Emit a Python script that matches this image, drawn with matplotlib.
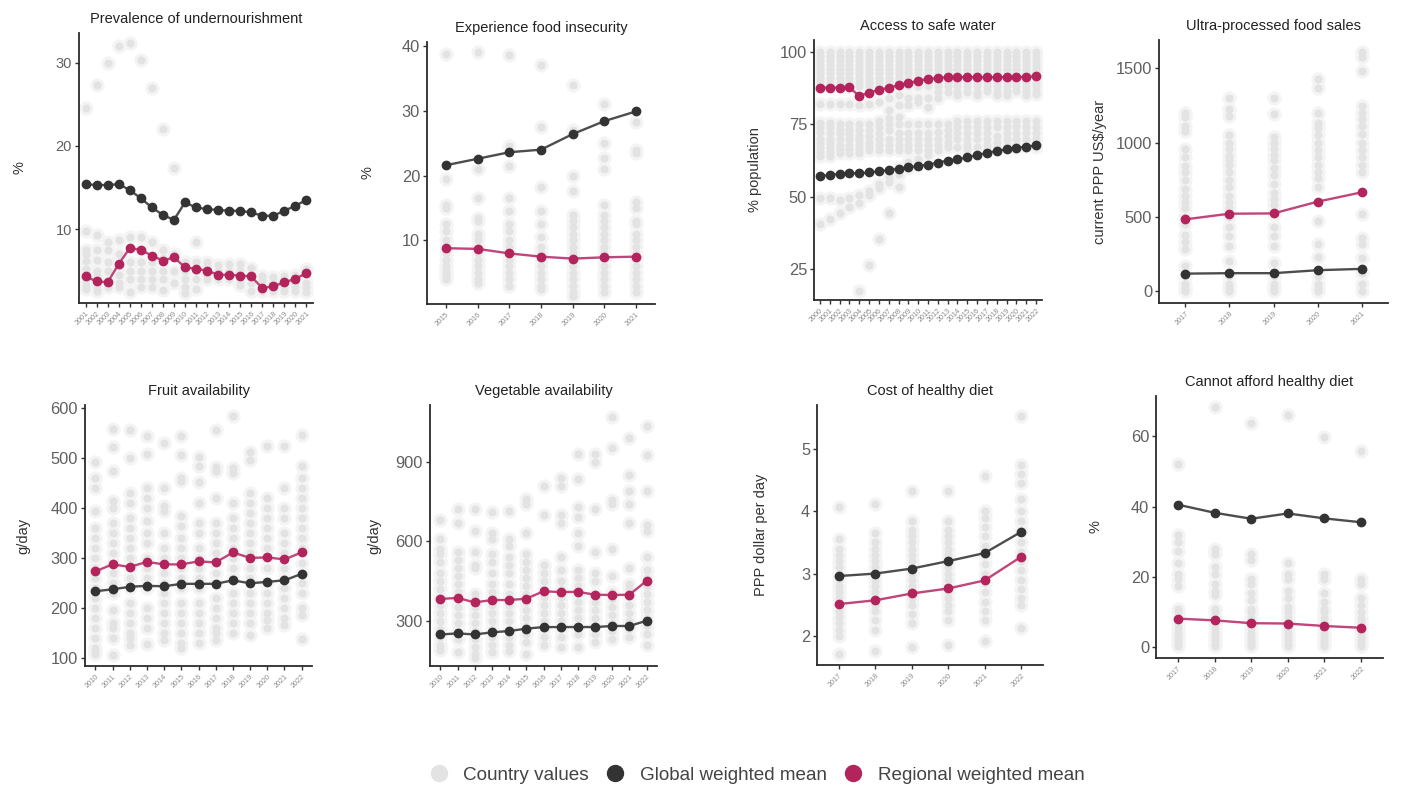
import matplotlib
matplotlib.use("Agg")
import matplotlib.pyplot as plt
from matplotlib.lines import Line2D

plt.rcParams['font.family'] = ['Liberation Sans', 'DejaVu Sans']

# Rozmiar obrazka w pikselach
W, H = 1401, 788

GREY_DOT = '#e3e3e3'
GREY_HALO = '#f4f4f4'
GLOBAL_COL = '#333333'
GLOBAL_LINE = '#4d4d4d'
REGIONAL_COL = '#b3245c'
REGIONAL_LINE = '#c0457a'

# ---------------- dane ----------------
# 1. Prevalence of undernourishment
und_years = list(range(2001, 2022))
und_global = [15.4, 15.3, 15.3, 15.4, 14.7, 13.7, 12.6, 11.7, 11.1, 13.2, 12.6,
              12.4, 12.3, 12.2, 12.2, 12.0, 11.6, 11.6, 12.2, 12.8, 13.5]
und_regional = [4.3, 3.7, 3.6, 5.8, 7.7, 7.5, 6.8, 6.2, 6.6, 5.4, 5.2,
                5.0, 4.5, 4.5, 4.4, 4.3, 2.9, 3.1, 3.6, 4.0, 4.7]
und_country = [
    [24.6, 9.8, 7.5, 7.0, 6.2, 5.2, 4.5, 3.8, 3.2, 2.8],
    [27.3, 9.3, 7.5, 6.3, 5.0, 4.3, 3.0, 2.5],
    [30.0, 8.5, 7.5, 6.0, 5.0, 3.5, 3.0],
    [32.0, 8.7, 7.0, 5.5, 4.5, 3.5, 3.0],
    [32.4, 9.0, 6.0, 5.0, 4.0, 2.4],
    [30.3, 9.0, 7.5, 6.0, 5.0, 4.0, 3.0],
    [27.0, 8.5, 6.0, 5.0, 4.0, 3.0],
    [22.1, 7.5, 6.5, 5.0, 4.0, 2.7],
    [17.3, 7.0, 5.0, 3.5],
    [6.0, 5.0, 4.0, 3.0, 2.3],
    [8.5, 6.0, 5.0, 4.0, 2.8],
    [6.0, 5.5, 5.0, 4.5, 4.0],
    [5.7, 5.0, 4.5, 4.0],
    [5.8, 5.0, 4.5, 4.0],
    [5.8, 5.0, 4.5, 3.8, 3.3],
    [5.3, 4.5, 3.5, 2.5],
    [4.3, 3.8, 3.0, 2.5],
    [4.2, 3.5, 3.0, 2.5],
    [4.3, 3.8, 3.0, 2.5],
    [4.5, 3.5, 3.0, 2.5],
    [5.2, 3.5, 3.0, 2.4],
]

# 2. Experience food insecurity
fies_years = list(range(2015, 2022))
fies_global = [21.6, 22.6, 23.6, 24.0, 26.4, 28.4, 29.9]
fies_regional = [8.8, 8.7, 8.0, 7.5, 7.2, 7.4, 7.5]
fies_country = [
    [38.8, 19.5, 15.5, 15.0, 12.5, 11.5, 10.0, 9.0, 8.0, 7.0, 6.0, 5.5, 5.0, 4.5, 4.0],
    [39.0, 21.0, 16.5, 13.5, 13.0, 11.0, 10.0, 9.0, 8.0, 7.0, 6.0, 5.0, 4.0, 3.5],
    [38.6, 24.5, 21.5, 16.5, 14.5, 12.5, 11.5, 10.0, 9.0, 8.0, 7.0, 6.0, 5.0, 4.0, 3.0],
    [37.1, 27.5, 18.3, 14.5, 12.5, 10.5, 9.0, 8.0, 7.0, 6.0, 5.0, 4.0, 3.0, 2.5],
    [33.9, 27.0, 20.0, 17.6, 14.0, 13.0, 12.0, 11.0, 10.0, 9.0, 8.0, 7.0, 6.0, 5.0,
     4.0, 3.0, 2.0, 1.5],
    [31.0, 25.0, 22.7, 21.0, 15.5, 14.0, 13.0, 12.0, 11.0, 10.0, 9.0, 8.0, 7.0, 6.0,
     5.0, 4.0, 3.0, 2.0],
    [28.2, 24.0, 23.5, 16.0, 15.0, 13.0, 12.5, 11.0, 10.0, 9.0, 8.0, 7.0, 6.0, 5.0,
     4.0, 3.0, 2.0],
]

# 3. Access to safe water
water_years = list(range(2000, 2023))
water_global = [57.2, 57.5, 58.0, 58.1, 58.1, 58.4, 58.8, 59.2, 59.7, 60.2, 60.6, 61.1,
                61.8, 62.5, 62.9, 63.6, 64.4, 65.1, 65.8, 66.4, 66.9, 67.3, 67.7]
water_regional = [87.6, 87.6, 87.6, 87.7, 84.7, 85.9, 86.8, 87.6, 88.4, 89.1, 90.0, 90.6,
                  90.9, 91.2, 91.2, 91.2, 91.2, 91.2, 91.2, 91.2, 91.2, 91.3, 91.5]
water_high_band = [100, 98.5, 97, 95.5, 94, 92.5, 91, 89.5, 88]
water_country = [
    water_high_band + [82, 75.5, 74, 72.5, 70, 68.5, 67, 65.5, 64, 49.5, 40.5],
    water_high_band + [82, 75.5, 74, 72, 70, 68.5, 67, 65.5, 64, 49.5, 42.5],
    water_high_band + [82, 75, 73.5, 72, 70, 68, 66.5, 65, 49, 44.5],
    water_high_band + [82, 75, 73.5, 71.5, 70, 68, 66.5, 65, 49.5, 46.5],
    water_high_band + [81.5, 75, 73, 71, 69.5, 68, 66.5, 65, 50.5, 48, 17.5],
    water_high_band + [82, 75, 73, 71, 69, 67, 66, 52, 50.5, 26.5],
    water_high_band + [82.5, 76, 74, 72, 70, 68, 66, 54.5, 53, 35.5],
    water_high_band + [84, 80, 77, 75, 73, 70, 68, 66, 57, 55, 44.5],
    water_high_band + [85, 81.5, 77.5, 75, 72, 70, 68, 66, 60, 58, 53.5],
    water_high_band + [84, 81.5, 75, 72, 70, 68, 66, 62, 60],
    water_high_band + [84, 82.5, 75, 72, 70, 68, 66, 63],
    water_high_band + [84, 81, 75, 72, 70, 68, 66, 64.5],
    water_high_band + [86, 84, 75, 72.5, 70, 68, 66],
    water_high_band + [86, 75, 73, 71, 69, 67],
    water_high_band + [86, 85, 76, 74, 72, 70, 67],
    water_high_band + [86, 76, 74, 72, 70, 68, 66.5],
    water_high_band + [86, 85, 76, 74, 72, 70, 67],
    water_high_band + [86.5, 76, 74, 72, 70, 68, 66.5],
    water_high_band + [86, 85, 76, 74, 71, 69, 67],
    water_high_band + [86.5, 85, 76, 74, 72, 70, 67.5],
    water_high_band + [86.5, 76, 74.5, 72, 70, 68, 67],
    water_high_band + [86.5, 85, 76, 74, 72, 70, 67.5],
    water_high_band + [86.5, 85.5, 76, 74, 72, 70, 67],
]

# 4. Ultra-processed food sales
upf_years = list(range(2017, 2022))
upf_global = [117, 120, 120, 140, 149]
upf_regional = [483, 521, 523, 602, 665]
upf_country = [
    [0, 20, 50, 100, 170, 280, 330, 380, 450, 500, 560, 600, 640, 690, 750, 800, 840,
     900, 960, 1080, 1110, 1170, 1200],
    [0, 20, 50, 100, 200, 300, 370, 430, 500, 560, 600, 640, 700, 750, 800, 850, 880,
     910, 960, 1000, 1050, 1180, 1230, 1300],
    [0, 20, 50, 100, 190, 300, 370, 430, 520, 580, 620, 660, 720, 780, 830, 880, 920,
     960, 1000, 1040, 1190, 1300],
    [0, 20, 50, 100, 230, 320, 470, 700, 760, 800, 850, 900, 950, 1000, 1050, 1100,
     1130, 1200, 1370, 1430],
    [0, 50, 120, 220, 320, 360, 520, 800, 850, 900, 950, 1000, 1060, 1110, 1160, 1200,
     1250, 1480, 1580, 1610],
]

# 5. Fruit availability
fruit_years = list(range(2010, 2023))
fruit_global = [233, 237, 242, 244, 243, 248, 248, 248, 255, 249, 252, 255, 268]
fruit_regional = [273, 287, 282, 292, 287, 287, 293, 291, 311, 300, 301, 297, 311]
fruit_country = [
    [108, 115, 120, 140, 160, 180, 200, 220, 240, 260, 280, 300, 320, 340, 360, 395,
     440, 460, 493],
    [105, 140, 160, 170, 195, 230, 250, 270, 290, 310, 330, 350, 370, 400, 415, 475,
     522, 558],
    [125, 140, 150, 170, 190, 210, 240, 260, 280, 300, 320, 340, 360, 380, 410, 430,
     500, 557],
    [128, 160, 180, 200, 240, 260, 280, 300, 330, 350, 375, 400, 420, 440, 508, 545],
    [135, 150, 170, 190, 210, 230, 250, 270, 300, 320, 350, 395, 405, 440, 530],
    [120, 130, 150, 170, 190, 210, 240, 260, 280, 300, 320, 340, 365, 385, 455, 460,
     507, 545],
    [130, 150, 170, 190, 210, 240, 260, 280, 300, 320, 350, 370, 410, 452, 485, 503],
    [135, 150, 160, 180, 200, 220, 250, 270, 290, 310, 330, 350, 370, 420, 475, 482,
     556],
    [150, 170, 190, 210, 230, 260, 280, 300, 320, 340, 360, 380, 410, 470, 480, 585],
    [145, 170, 190, 210, 230, 260, 280, 310, 330, 350, 370, 390, 410, 430, 497, 513],
    [160, 175, 190, 210, 230, 250, 280, 300, 320, 340, 360, 380, 400, 420, 525],
    [165, 180, 200, 220, 240, 260, 280, 310, 330, 350, 380, 400, 440, 525],
    [138, 185, 200, 230, 250, 270, 290, 320, 340, 360, 380, 400, 420, 440, 460, 485,
     547],
]

# 6. Vegetable availability
veg_years = list(range(2010, 2023))
veg_global = [248, 252, 248, 256, 261, 270, 276, 276, 276, 276, 280, 280, 300]
veg_regional = [382, 386, 369, 378, 378, 383, 411, 408, 409, 398, 397, 398, 451]
veg_country = [
    [190, 210, 240, 270, 300, 330, 360, 390, 420, 450, 480, 520, 550, 570, 610, 680],
    [180, 230, 260, 290, 320, 350, 380, 410, 440, 470, 500, 530, 560, 670, 720],
    [160, 175, 200, 230, 260, 290, 320, 350, 380, 400, 500, 510, 560, 640, 720],
    [180, 210, 240, 270, 300, 330, 360, 390, 410, 440, 480, 520, 550, 610, 630, 710],
    [185, 210, 240, 270, 300, 330, 360, 400, 440, 480, 510, 540, 580, 610, 715],
    [175, 220, 250, 280, 310, 340, 370, 400, 430, 460, 490, 520, 550, 630, 740, 760],
    [210, 240, 270, 300, 330, 360, 390, 420, 450, 480, 510, 700, 810],
    [200, 240, 270, 300, 330, 360, 390, 420, 450, 490, 540, 670, 700, 810, 840],
    [200, 250, 280, 310, 340, 370, 400, 430, 460, 490, 580, 630, 690, 730, 835, 930],
    [220, 250, 280, 310, 340, 370, 400, 450, 480, 560, 720, 900, 930],
    [230, 260, 290, 320, 350, 380, 410, 470, 570, 740, 755, 950, 1070],
    [240, 270, 300, 330, 360, 390, 420, 440, 500, 670, 740, 790, 850, 990],
    [210, 250, 280, 310, 340, 370, 400, 430, 460, 490, 540, 640, 660, 790, 925, 1035],
]

# 7. Cost of healthy diet
cost_years = list(range(2017, 2023))
cost_global = [2.96, 3.00, 3.08, 3.20, 3.33, 3.67]
cost_regional = [2.51, 2.57, 2.68, 2.76, 2.89, 3.27]
cost_country = [
    [1.70, 2.0, 2.1, 2.2, 2.3, 2.4, 2.5, 2.6, 2.7, 2.8, 2.9, 3.0, 3.1, 3.2, 3.3, 3.4,
     3.55, 4.07],
    [1.75, 2.1, 2.25, 2.4, 2.5, 2.6, 2.7, 2.8, 2.9, 3.0, 3.1, 3.2, 3.3, 3.4, 3.5, 3.65,
     4.12],
    [1.82, 2.2, 2.35, 2.5, 2.6, 2.7, 2.8, 2.9, 3.0, 3.1, 3.2, 3.3, 3.4, 3.5, 3.6, 3.7,
     3.85, 4.33],
    [1.85, 2.25, 2.4, 2.5, 2.6, 2.7, 2.8, 2.9, 3.0, 3.1, 3.2, 3.3, 3.4, 3.5, 3.6, 3.7,
     3.85, 4.33],
    [1.92, 2.25, 2.4, 2.55, 2.7, 2.85, 3.0, 3.15, 3.3, 3.45, 3.6, 3.75, 3.9, 4.0, 4.57],
    [2.12, 2.5, 2.6, 2.75, 2.9, 3.05, 3.2, 3.35, 3.5, 3.7, 3.85, 4.0, 4.2, 4.45, 4.6,
     4.75, 5.53],
]

# 8. Cannot afford healthy diet
caf_years = list(range(2017, 2023))
caf_global = [40.6, 38.3, 36.6, 38.1, 36.7, 35.6]
caf_regional = [8.2, 7.7, 6.9, 6.8, 6.1, 5.6]
caf_country = [
    [52.3, 32, 30, 27.5, 24, 21, 19.5, 17.5, 11, 10, 8.5, 7, 5.5, 4, 3, 2, 1, 0.5],
    [68.5, 28, 26.5, 23, 21, 18, 16, 15, 11, 10, 8.5, 7, 5.5, 4, 3, 2, 1, 0.5],
    [63.7, 26.5, 25, 19.5, 18, 15.5, 13.5, 11, 10, 8.5, 7, 5.5, 4, 3, 2, 1, 0.5],
    [66.0, 24, 21, 19.5, 16, 14, 11.5, 10, 8.5, 7, 5.5, 4, 3, 2, 1, 0.5],
    [59.8, 21, 19.5, 15.5, 13, 11, 10, 8.5, 7, 5.5, 4, 3, 2, 1, 0.5],
    [55.9, 19.5, 18, 14, 12, 10, 8.5, 7, 5.5, 4, 3, 2, 1, 0.5],
]

fig = plt.figure(figsize=(W / 100, H / 100), dpi=100)
fig.patch.set_facecolor('white')


def draw_panel(box, years, country, glob, reg, title, ylabel, ylim, yticks, ylab_x,
               tick_fs=11.8):
    """box = (lewo, góra, prawo, dół) w pikselach"""
    left, top, right, bottom = box
    ax = fig.add_axes([left / W, 1 - bottom / H, (right - left) / W, (bottom - top) / H])

    for i, vals in enumerate(country):
        ax.scatter([i] * len(vals), vals, s=105, color=GREY_HALO, lw=0, zorder=1)
    for i, vals in enumerate(country):
        ax.scatter([i] * len(vals), vals, s=34, color=GREY_DOT, lw=0, zorder=2)

    x = list(range(len(years)))
    ax.plot(x, glob, color=GLOBAL_LINE, lw=1.7, zorder=3)
    ax.plot(x, glob, ls='', marker='o', ms=6, color=GLOBAL_COL, zorder=4)
    ax.plot(x, reg, color=REGIONAL_LINE, lw=1.7, zorder=3)
    ax.plot(x, reg, ls='', marker='o', ms=6, color=REGIONAL_COL, zorder=4)

    ax.set_xlim(-0.6, len(years) - 0.4)
    ax.set_ylim(*ylim)
    ax.set_yticks(yticks)
    ax.set_xticks(x)
    ax.set_xticklabels([str(y) for y in years], rotation=45, ha='right',
                       rotation_mode='anchor', fontsize=5.2, color='#8c8c8c')
    ax.tick_params(axis='y', labelsize=tick_fs, labelcolor='#606060', length=3,
                   width=1, color='#333333', pad=2)
    ax.tick_params(axis='x', length=3, width=1, color='#333333', pad=2)

    for s in ('top', 'right'):
        ax.spines[s].set_visible(False)
    for s in ('left', 'bottom'):
        ax.spines[s].set_linewidth(1.3)
        ax.spines[s].set_color('#2b2b2b')

    ax.set_title(title, fontsize=10.5, color='#222222', pad=7)
    ax.set_ylabel(ylabel, fontsize=10.5, color='#333333')
    ax.yaxis.set_label_coords((ylab_x + 6 - left) / (right - left), 0.5)
    return ax


draw_panel((79, 33, 313, 303), und_years, und_country, und_global, und_regional,
           'Prevalence of undernourishment', '%', (1.1, 33.6), [10, 20, 30], 20,
           tick_fs=10.5)
draw_panel((427, 42, 655, 304), fies_years, fies_country, fies_global, fies_regional,
           'Experience food insecurity', '%', (0.2, 40.6), [10, 20, 30, 40], 368)
draw_panel((814, 40, 1042, 300), water_years, water_country, water_global, water_regional,
           'Access to safe water', '% population', (14.5, 104), [25, 50, 75, 100], 756)
draw_panel((1159, 40, 1388, 303), upf_years, upf_country, upf_global, upf_regional,
           'Ultra-processed food sales', 'current PPP US$/year', (-81, 1692),
           [0, 500, 1000, 1500], 1101)
draw_panel((85, 405, 312, 666), fruit_years, fruit_country, fruit_global, fruit_regional,
           'Fruit availability', 'g/day', (83, 607), [100, 200, 300, 400, 500, 600], 24)
draw_panel((430, 405, 657, 666), veg_years, veg_country, veg_global, veg_regional,
           'Vegetable availability', 'g/day', (129, 1114), [300, 600, 900], 375)
draw_panel((817, 405, 1043, 665), cost_years, cost_country, cost_global, cost_regional,
           'Cost of healthy diet', 'PPP dollar per day', (1.53, 5.71), [2, 3, 4, 5], 762)
draw_panel((1156, 396, 1383, 658), caf_years, caf_country, caf_global, caf_regional,
           'Cannot afford healthy diet', '%', (-3.0, 71.5), [0, 20, 40, 60], 1097)

handles = [
    Line2D([], [], ls='', marker='o', ms=11.5, color=GREY_DOT, label='Country values'),
    Line2D([], [], ls='', marker='o', ms=11.5, color=GLOBAL_COL, label='Global weighted mean'),
    Line2D([], [], ls='', marker='o', ms=11.5, color=REGIONAL_COL, label='Regional weighted mean'),
]
fig.legend(handles=handles, loc='center', bbox_to_anchor=(757 / W, 1 - 775 / H), ncol=3,
           frameon=False, fontsize=13.6, labelcolor='#444444', handletextpad=0.8,
           columnspacing=0.9, handlelength=1.0)

fig.savefig('out.png', dpi=100, facecolor='white')
